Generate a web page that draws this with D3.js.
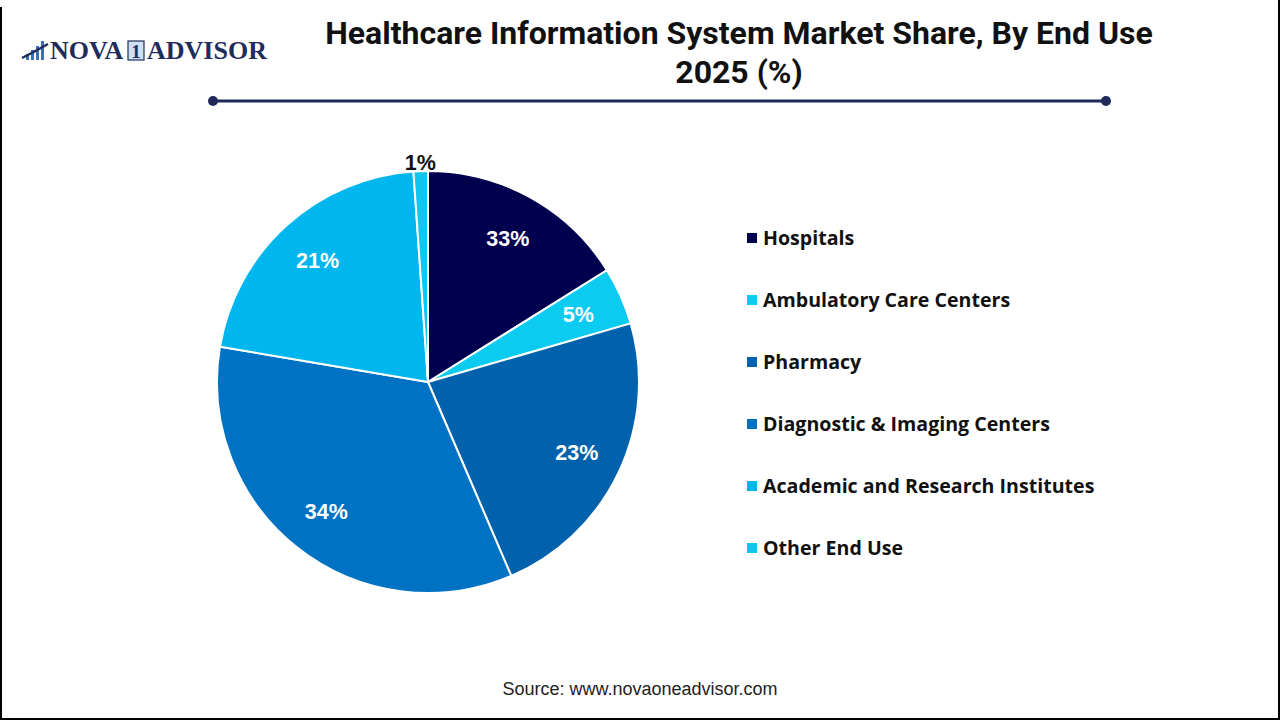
<!DOCTYPE html>
<html>
<head>
<meta charset="utf-8">
<script src="https://cdn.jsdelivr.net/npm/d3@7"></script>
<style>
  html, body { margin: 0; padding: 0; background: #fff; }
  svg { display: block; }
</style>
</head>
<body>
<div id="chart"></div>
<script>
'use strict';

// slice sizes as drawn (angle share) and the labels printed on them
const categories = ['Hospitals', 'Ambulatory Care Centers', 'Pharmacy',
  'Diagnostic & Imaging Centers', 'Academic and Research Institutes', 'Other End Use'];
const sliceValues = [16.1, 4.4, 23, 34.1, 21.2, 1.1];
const sliceLabels = ['33%', '5%', '23%', '34%', '21%', '1%'];
const sliceColors = ['#00004f', '#0ccbf0', '#0062ac', '#0072c4', '#00b6ef', '#10c6ee'];

const width = 1280, height = 720;

const svg = d3.select('#chart').append('svg')
  .attr('width', width)
  .attr('height', height);

svg.append('rect').attr('width', width).attr('height', height).attr('fill', '#fff');

// frame (left, right, bottom)
svg.append('path')
  .attr('d', `M1,7 V${height - 1} H${width - 1} V0`)
  .attr('fill', 'none')
  .attr('stroke', '#000')
  .attr('stroke-width', 2);

// logo
const logo = svg.append('g').attr('transform', 'translate(22, 40)');
[[0, 14, 3], [5, 10, 3], [10, 6, 3], [15, 1, 3]].forEach(function (b) {
  logo.append('rect')
    .attr('x', b[0] + 4).attr('y', b[1])
    .attr('width', b[2]).attr('height', 20 - b[1])
    .attr('fill', '#3d6fb6');
});
logo.append('path')
  .attr('d', 'M0,18 Q12,12 26,4')
  .attr('fill', 'none').attr('stroke', '#1f2d5c').attr('stroke-width', 2.5);
logo.append('text')
  .attr('x', 28).attr('y', 19)
  .attr('font-family', '"Liberation Serif", "DejaVu Serif", serif')
  .attr('font-weight', 'bold').attr('font-size', 26)
  .attr('fill', '#1f2d5c')
  .text('NOVA');
logo.append('rect')
  .attr('x', 106).attr('y', 1).attr('width', 16).attr('height', 19)
  .attr('fill', '#cfe0f3').attr('stroke', '#1f2d5c').attr('stroke-width', 1.2);
logo.append('text')
  .attr('x', 114).attr('y', 17.5).attr('text-anchor', 'middle')
  .attr('font-family', '"Liberation Serif", "DejaVu Serif", serif')
  .attr('font-weight', 'bold').attr('font-size', 19)
  .attr('fill', '#1f2d5c')
  .text('1');
logo.append('text')
  .attr('x', 125).attr('y', 19)
  .attr('font-family', '"Liberation Serif", "DejaVu Serif", serif')
  .attr('font-weight', 'bold').attr('font-size', 26)
  .attr('fill', '#1f2d5c')
  .text('ADVISOR');

// title
const title = svg.append('text')
  .attr('text-anchor', 'middle')
  .attr('font-family', '"Liberation Sans Narrow", "Roboto", sans-serif')
  .attr('font-weight', 'bold')
  .attr('font-size', 32)
  .attr('fill', '#111');
title.append('tspan').attr('x', 739).attr('y', 44)
  .text('Healthcare Information System Market Share, By End Use');
title.append('tspan').attr('x', 739).attr('y', 83)
  .text('2025 (%)');

// rule under title
svg.append('line')
  .attr('x1', 213).attr('x2', 1106).attr('y1', 101).attr('y2', 101)
  .attr('stroke', '#1f2a5a').attr('stroke-width', 3);
[213, 1106].forEach(function (x) {
  svg.append('circle').attr('cx', x).attr('cy', 101).attr('r', 5).attr('fill', '#1f2a5a');
});

// pie
const cx = 428, cy = 382, radius = 211;
const pieData = categories.map(function (c, i) {
  return { name: c, value: sliceValues[i], label: sliceLabels[i], color: sliceColors[i] };
});
const pie = d3.pie().sort(null).value(function (d) { return d.value; });
const arc = d3.arc().innerRadius(0).outerRadius(radius);
const labelArc = d3.arc().innerRadius(radius * 0.78).outerRadius(radius * 0.78);
const outerArc = d3.arc().innerRadius(radius + 9).outerRadius(radius + 9);

const pieG = svg.append('g').attr('transform', `translate(${cx}, ${cy})`);
const arcs = pie(pieData);

pieG.selectAll('path.slice')
  .data(arcs)
  .enter().append('path')
  .attr('class', 'slice')
  .attr('d', arc)
  .attr('fill', function (d) { return d.data.color; })
  .attr('stroke', '#fff')
  .attr('stroke-width', 2);

pieG.selectAll('text.lbl')
  .data(arcs)
  .enter().append('text')
  .attr('class', 'lbl')
  .attr('transform', function (d) {
    const small = d.data.value < 2;
    const p = small ? outerArc.centroid(d) : labelArc.centroid(d);
    return `translate(${p[0]}, ${p[1]})`;
  })
  .attr('text-anchor', 'middle')
  .attr('dy', '0.35em')
  .attr('font-family', '"Liberation Sans", Arial, sans-serif')
  .attr('font-weight', 'bold')
  .attr('font-size', 21.5)
  .attr('fill', function (d) { return d.data.value < 2 ? '#111' : '#fff'; })
  .text(function (d) { return d.data.label; });

// legend
const legendY = d3.scalePoint()
  .domain(categories)
  .range([238, 548]);

const legend = svg.append('g');
const items = legend.selectAll('g.item')
  .data(pieData)
  .enter().append('g')
  .attr('class', 'item')
  .attr('transform', function (d) { return `translate(747, ${legendY(d.name)})`; });

items.append('rect')
  .attr('x', 0).attr('y', -5)
  .attr('width', 10).attr('height', 10)
  .attr('fill', function (d) { return d.color; });

items.append('text')
  .attr('x', 16).attr('dy', '0.35em')
  .attr('font-family', '"Open Sans", Lato, sans-serif')
  .attr('font-weight', 'bold')
  .attr('font-size', 19.6)
  .attr('fill', '#111')
  .text(function (d) { return d.name; });

// source
svg.append('text')
  .attr('x', 640).attr('y', 695)
  .attr('text-anchor', 'middle')
  .attr('font-family', '"Liberation Sans", Arial, sans-serif')
  .attr('font-size', 18)
  .attr('fill', '#222')
  .text('Source: www.novaoneadvisor.com');
</script>
</body>
</html>
